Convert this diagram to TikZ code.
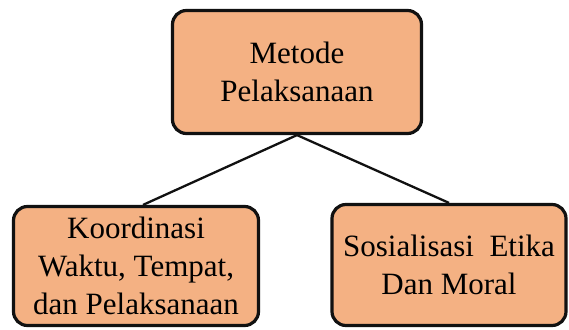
\documentclass[tikz,border=0pt]{standalone}
\usepackage{fontspec}
\setmainfont{Liberation Serif}
\usepackage{xcolor}
\usepackage{tikz}
\usetikzlibrary{calc,positioning}
\definecolor{boxfill}{HTML}{F4B183}
\definecolor{edgec}{HTML}{111111}
\tikzset{
  ln/.style={line width=2.3pt,edgec},
  box/.style={draw=edgec,line width=3.2pt,rounded corners=14pt,fill=boxfill,align=center,inner sep=2pt,
    font=\fontsize{31}{38}\selectfont}
}

\begin{document}
\begin{tikzpicture}[x=1pt,y=1pt]
\useasboundingbox (0,0) rectangle (569,329);
\node[box,minimum width=249pt,minimum height=123pt] (metode) at (297,257) {Metode\\Pelaksanaan};
\node[box,minimum width=245pt,minimum height=119pt] (koord) at (136,63) {Koordinasi\\Waktu, Tempat,\\dan Pelaksanaan};
\node[box,minimum width=234pt,minimum height=121pt] (sosial) at (449,64) {Sosialisasi\ \ Etika\\Dan Moral};
\draw[ln] (metode.south) -- ($(koord.north)+(7,0)$);
\draw[ln] (metode.south) -- (sosial.north);
\end{tikzpicture}
\end{document}
